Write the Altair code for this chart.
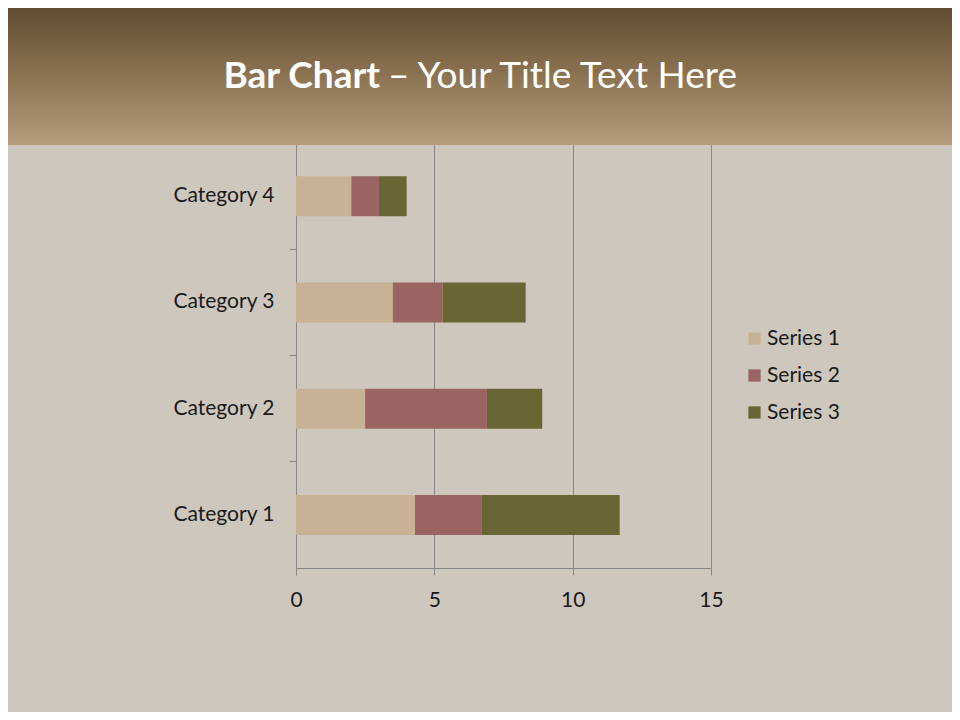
import altair as alt
import pandas as pd

categories = ["Category 1", "Category 2", "Category 3", "Category 4"]
series_names = ["Series 1", "Series 2", "Series 3"]
series1 = [4.3, 2.5, 3.5, 2.0]
series2 = [2.4, 4.4, 1.8, 1.0]
series3 = [5.0, 2.0, 3.0, 1.0]
x_ticks = [0, 5, 10, 15]
series_colors = ["#c8b296", "#9a6462", "#676634"]
title_bold = "Bar Chart"
title_rest = "– Your Title Text Here"

rows = []
for si, (name, vals) in enumerate(zip(series_names, [series1, series2, series3])):
    for c, v in zip(categories, vals):
        rows.append({"category": c, "series": name, "value": v, "order": si})
df = pd.DataFrame(rows)

FONT = "Lato"
FS = 21
W, H = 415, 425
PAD = {"left": 288, "top": 135, "right": 241, "bottom": 144}
GRID = "#878787"

one = pd.DataFrame({"a": [0]})

band = alt.Chart(one).mark_rect(
    color=alt.Gradient(
        gradient="linear",
        stops=[alt.GradientStop(color="#5e4a30", offset=0),
               alt.GradientStop(color="#8b7251", offset=0.5),
               alt.GradientStop(color="#b49c7c", offset=1)],
        x1=0, x2=0, y1=0, y2=1,
    )
).encode(x=alt.value(-300), x2=alt.value(680), y=alt.value(-140), y2=alt.value(2))

bars = alt.Chart(df).mark_bar(size=40).encode(
    x=alt.X("value:Q", stack="zero",
            scale=alt.Scale(domain=[0, 15], nice=False),
            axis=alt.Axis(values=x_ticks, title=None, grid=True, gridColor=GRID,
                          gridOpacity=1, labelPadding=14, labelFlush=False, format="d")),
    y=alt.Y("category:N", sort=categories[::-1],
            scale=alt.Scale(paddingInner=0, paddingOuter=0),
            axis=alt.Axis(title=None, bandPosition=0, tickExtra=True,
                          labelPadding=15, grid=False)),
    color=alt.Color("series:N",
                    scale=alt.Scale(domain=series_names, range=series_colors),
                    legend=alt.Legend(title=None, orient="none", legendX=448, legendY=185,
                                      symbolType="square", symbolSize=150,
                                      symbolStrokeWidth=0, labelFontSize=FS,
                                      labelFont=FONT, labelColor="#1a1a1a",
                                      rowPadding=15, labelOffset=2)),
    order=alt.Order("order:Q"),
)

t1 = alt.Chart(pd.DataFrame({"t": [title_bold]})).mark_text(
    align="right", baseline="alphabetic", font=FONT, fontSize=37,
    fontWeight="bold", color="white"
).encode(x=alt.value(84), y=alt.value(-55), text="t:N")

t2 = alt.Chart(pd.DataFrame({"t": [title_rest]})).mark_text(
    align="left", baseline="alphabetic", font=FONT, fontSize=37,
    fontWeight="normal", color="white"
).encode(x=alt.value(92), y=alt.value(-55), text="t:N")

chart = alt.layer(band, bars, t1, t2).properties(
    width=W, height=H, padding=PAD,
    autosize=alt.AutoSizeParams(type="none"),
    background="#cec7bd",
).configure_view(stroke=None).configure_axis(
    labelFont=FONT, labelFontSize=FS, labelColor="#1a1a1a",
    domainColor=GRID, tickColor=GRID, tickSize=7,
)

chart.save("out.html", embed_options={"renderer": "svg", "actions": False})
